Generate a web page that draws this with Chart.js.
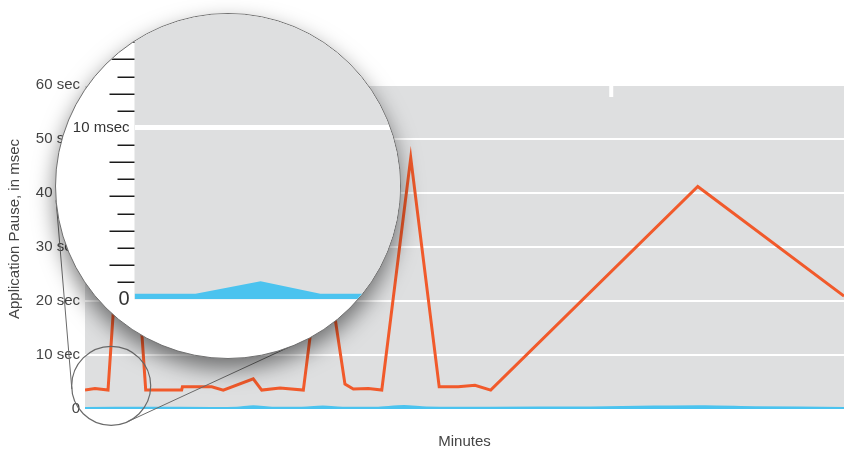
<!DOCTYPE html>
<html>
<head>
<meta charset="utf-8">
<script src="https://cdn.jsdelivr.net/npm/chart.js@4"></script>
<style>
  body { margin: 0; background: #ffffff; }
  #wrap { position: relative; width: 844px; height: 451px; }
  #lens {
    position: absolute;
    width: 344px; height: 344px;
    border: 1px solid #707070;
    border-radius: 50%;
    overflow: hidden;
    background: #ffffff;
    box-shadow: 0 10px 22px rgba(0, 0, 0, 0.5);
  }
</style>
</head>
<body>
<div id="wrap">
  <canvas id="pauseChart" width="844" height="451"></canvas>
  <div id="lens"><canvas id="lensChart" width="344" height="344"></canvas></div>
</div>
<script>
// main chart data (minutes / pause)
const orangeMinutes = [0, 0.79, 1.82, 3.3, 4.8, 7.64, 7.7, 10.02, 10.93, 13.3, 13.97, 15.42, 17.26, 18.8, 20.55, 21.21, 22.4, 23.46, 25.75, 28.0, 29.5, 30.83, 32.07, 48.44, 60];
const orangePause = [3.5, 3.8, 3.5, 55, 3.5, 3.5, 4.1, 4.1, 3.5, 5.6, 3.5, 3.9, 3.5, 32, 4.6, 3.7, 3.8, 3.5, 46.5, 4.1, 4.1, 4.4, 3.5, 41.2, 20.9];

const blueMinutes = [0, 5, 10, 12, 13.3, 14.8, 17, 18.8, 20.5, 23, 25.2, 27, 32, 40, 45, 49, 53, 60];
const bluePause = [0.15, 0.2, 0.15, 0.2, 0.45, 0.2, 0.2, 0.4, 0.2, 0.2, 0.5, 0.25, 0.2, 0.25, 0.4, 0.45, 0.3, 0.15];

const yTicks = [0, 10, 20, 30, 40, 50, 60];
const yTickLabels = ['0', '10 sec', '20 sec', '30 sec', '40 sec', '50 sec', '60 sec'];

// magnified view data (msec)
const lensX = [0, 2.3, 4.75, 7.0, 10];
const lensPause = [0.33, 0.33, 1.05, 0.33, 0.33];
const lensLabels = { 0: '0', 10: '10 msec' };

const ORANGE = '#f15a2b';
const BLUE = '#4bc3ef';
const PLOT_BG = '#dedfe0';
const FONT = "'Liberation Sans', Arial, sans-serif";

// lens placement (big circle) and the spot it magnifies (small circle)
const BIG = { x: 227.5, y: 186, r: 172 };
const SPOT = { minute: 2.07, value: 4.3, r: 39.5 };
const TOP_MARK_MINUTE = 41.6;

const lensDiv = document.getElementById('lens');
lensDiv.style.left = (BIG.x - BIG.r - 1) + 'px';
lensDiv.style.top = (BIG.y - BIG.r - 1) + 'px';

const toPoints = (xs, ys) => xs.map((x, i) => ({ x: x, y: ys[i] }));

const plotBackground = {
  id: 'plotBackground',
  beforeDraw(chart, args, opts) {
    const { ctx, chartArea } = chart;
    const top = opts.fromTop ? 0 : chartArea.top;
    ctx.save();
    ctx.fillStyle = PLOT_BG;
    ctx.fillRect(chartArea.left, top, chartArea.right - chartArea.left, chartArea.bottom - top);
    ctx.restore();
  }
};

const mainExtras = {
  id: 'mainExtras',
  afterDraw(chart) {
    const { ctx, chartArea, scales } = chart;
    ctx.save();

    // little white mark at the top edge
    const mx = scales.x.getPixelForValue(TOP_MARK_MINUTE);
    ctx.fillStyle = '#ffffff';
    ctx.fillRect(mx - 2, chartArea.top, 4, 12);

    // y title
    ctx.translate(15, 229);
    ctx.rotate(-Math.PI / 2);
    ctx.font = '15px ' + FONT;
    ctx.fillStyle = '#444';
    ctx.textAlign = 'center';
    ctx.textBaseline = 'middle';
    ctx.fillText('Application Pause, in msec', 0, 0);
    ctx.restore();

    // small circle + tangent lines to the lens
    const c1 = { x: scales.x.getPixelForValue(SPOT.minute), y: scales.y.getPixelForValue(SPOT.value) };
    const dx = BIG.x - c1.x, dy = BIG.y - c1.y;
    const d = Math.sqrt(dx * dx + dy * dy);
    const th = Math.atan2(dy, dx);
    const al = Math.acos((SPOT.r - BIG.r) / d);
    ctx.save();
    ctx.strokeStyle = '#6a6a6a';
    ctx.lineWidth = 1.2;
    ctx.beginPath();
    ctx.arc(c1.x, c1.y, SPOT.r, 0, Math.PI * 2);
    ctx.stroke();
    ctx.lineWidth = 1;
    [th + al, th - al].forEach(a => {
      ctx.beginPath();
      ctx.moveTo(c1.x + SPOT.r * Math.cos(a), c1.y + SPOT.r * Math.sin(a));
      ctx.lineTo(BIG.x + BIG.r * Math.cos(a), BIG.y + BIG.r * Math.sin(a));
      ctx.stroke();
    });
    ctx.restore();
  }
};

new Chart(document.getElementById('pauseChart'), {
  type: 'line',
  data: {
    datasets: [
      {
        label: 'Pause',
        data: toPoints(orangeMinutes, orangePause),
        borderColor: ORANGE,
        borderWidth: 3,
        pointRadius: 0,
        tension: 0,
        fill: false
      },
      {
        label: 'Pause (small)',
        data: toPoints(blueMinutes, bluePause),
        borderColor: BLUE,
        backgroundColor: BLUE,
        borderWidth: 2.5,
        pointRadius: 0,
        tension: 0.3,
        fill: 'origin'
      }
    ]
  },
  options: {
    responsive: false,
    animation: false,
    layout: { padding: { top: 85, left: 0, right: 0, bottom: 0 } },
    plugins: {
      legend: { display: false },
      tooltip: { enabled: false },
      plotBackground: { fromTop: false }
    },
    scales: {
      x: {
        type: 'linear',
        min: 0,
        max: 60,
        grid: { display: false },
        border: { display: false },
        ticks: { display: false },
        title: {
          display: true,
          text: 'Minutes',
          color: '#444',
          font: { family: FONT, size: 15 },
          padding: { top: 16, bottom: 0 }
        }
      },
      y: {
        min: 0,
        max: 60,
        afterFit: (scale) => { scale.width = 85; },
        afterBuildTicks: (scale) => { scale.ticks = yTicks.map(v => ({ value: v })); },
        grid: { color: '#ffffff', lineWidth: 2, drawTicks: false },
        border: { display: false },
        ticks: {
          padding: 5,
          color: '#444',
          font: { family: FONT, size: 15 },
          callback: (v) => yTickLabels[yTicks.indexOf(v)]
        }
      }
    }
  },
  plugins: [plotBackground, mainExtras]
});

const lensTicks = {
  id: 'lensTicks',
  afterDraw(chart) {
    const { ctx, chartArea, scales } = chart;
    ctx.save();
    ctx.strokeStyle = '#1a1a1a';
    ctx.lineWidth = 1.5;
    for (let v = 1; v <= 16; v++) {
      if (v === 10) continue;
      const y = Math.round(scales.y.getPixelForValue(v)) + 0.25;
      const len = v % 2 === 0 ? 25 : 17;
      ctx.beginPath();
      ctx.moveTo(chartArea.left - len, y);
      ctx.lineTo(chartArea.left, y);
      ctx.stroke();
    }
    ctx.restore();
  }
};

new Chart(document.getElementById('lensChart'), {
  type: 'line',
  data: {
    datasets: [{
      data: toPoints(lensX, lensPause),
      borderWidth: 0,
      backgroundColor: BLUE,
      pointRadius: 0,
      tension: 0,
      fill: 'origin'
    }]
  },
  options: {
    responsive: false,
    animation: false,
    layout: { padding: { top: 0, left: 0, right: 0, bottom: 58.7 } },
    plugins: {
      legend: { display: false },
      tooltip: { enabled: false },
      plotBackground: { fromTop: true }
    },
    scales: {
      x: { type: 'linear', min: 0, max: 10, display: false },
      y: {
        min: 0,
        max: 16.65,
        afterFit: (scale) => { scale.width = 78.5; scale.paddingTop = 0; scale.paddingBottom = 0; },
        afterBuildTicks: (scale) => { scale.ticks = [{ value: 0 }, { value: 10 }]; },
        grid: {
          color: (c) => c.tick && c.tick.value === 10 ? '#ffffff' : 'rgba(0,0,0,0)',
          lineWidth: 5,
          drawTicks: false
        },
        border: { display: false },
        ticks: {
          padding: 5,
          color: '#333',
          font: (c) => ({ family: FONT, size: c.tick && c.tick.value === 0 ? 20 : 15 }),
          callback: (v) => lensLabels[v]
        }
      }
    }
  },
  plugins: [plotBackground, lensTicks]
});
</script>
</body>
</html>
